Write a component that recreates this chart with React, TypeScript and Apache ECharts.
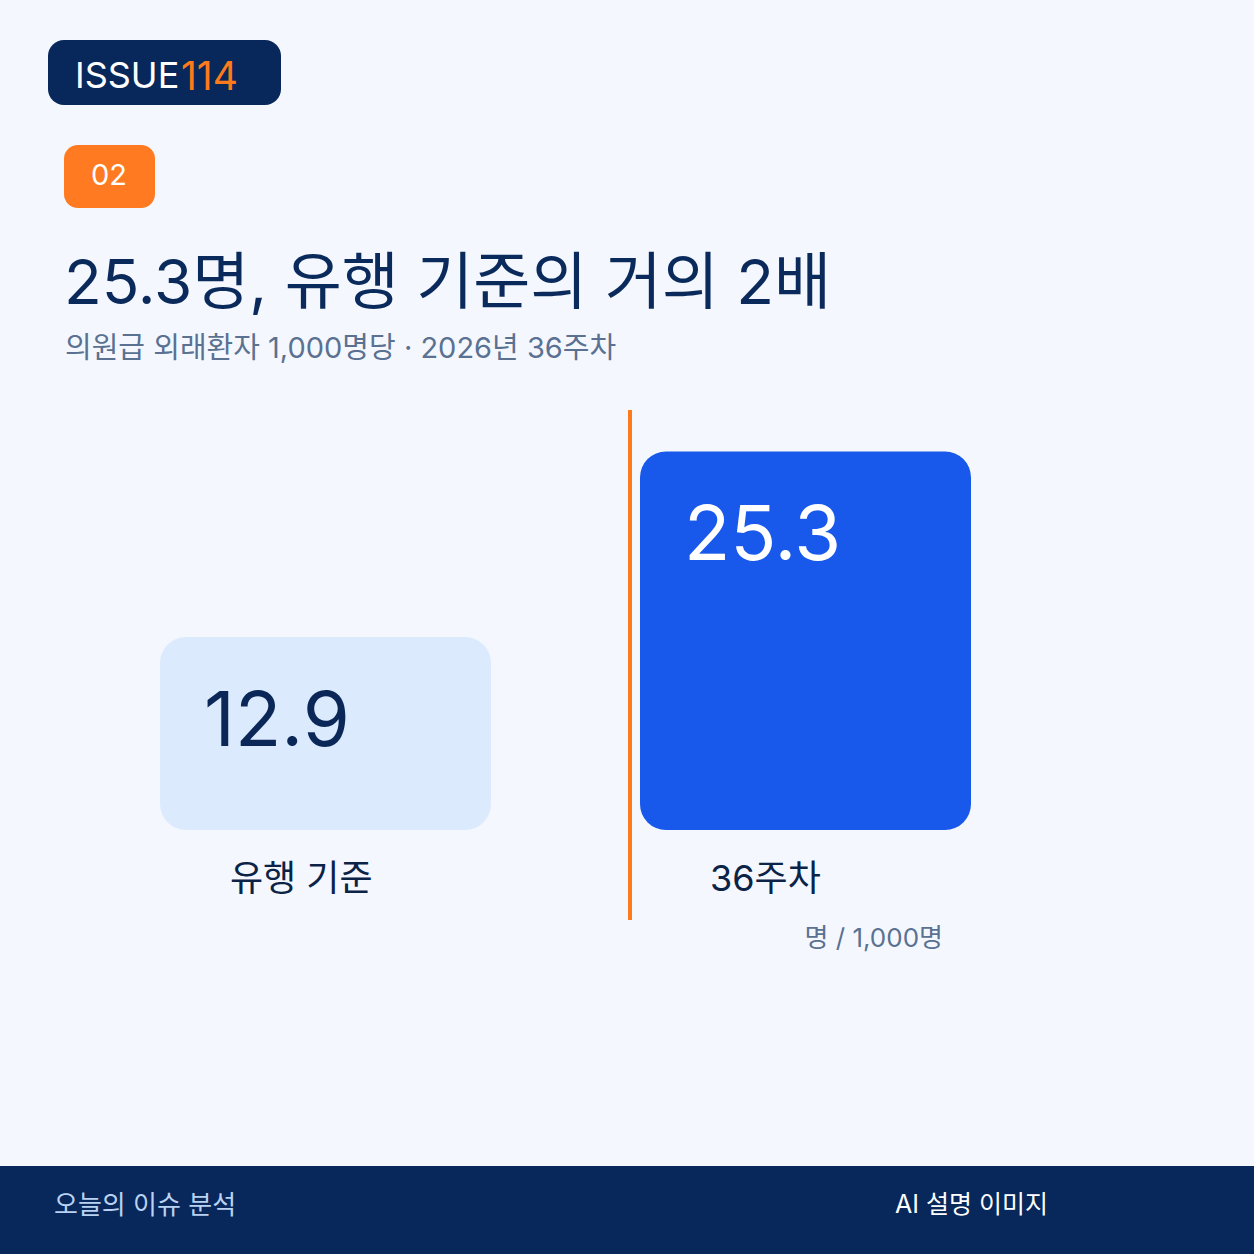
import React, { useEffect, useRef } from "react";
import * as echarts from "echarts";

const categories = ["유행 기준", "36주차"];
const values = [12.9, 25.3];
const barColors = ["#dbeafd", "#1858ea"];
const labelColors = ["#0a2757", "#ffffff"];
const yMax = 28;

const FONT = "Inter, 'Noto Sans CJK KR', sans-serif";

export default function App() {
  const ref = useRef<HTMLDivElement>(null);
  useEffect(() => {
    if (!ref.current) return;
    const chart = echarts.init(ref.current, undefined, { renderer: "svg" });
    chart.setOption({
      animation: false,
      backgroundColor: "#f4f8fe",
      textStyle: { fontFamily: FONT },
      grid: { left: 85.5, width: 960, top: 411, bottom: 424 },
      xAxis: {
        type: "category",
        data: categories,
        axisLine: { show: false },
        axisTick: { show: false },
        axisLabel: {
          margin: 30,
          formatter: (v: string) => `{a|${v}}`,
          rich: {
            a: { width: 191, align: "left", fontSize: 36, color: "#0b2347", fontFamily: FONT },
          },
        },
      },
      yAxis: {
        type: "value",
        min: 0,
        max: yMax,
        show: false,
        splitLine: { show: false },
      },
      series: [
        {
          type: "bar",
          barWidth: 331,
          data: values.map((v, i) => ({
            value: v,
            itemStyle: { color: barColors[i], borderRadius: 26 },
            label: {
              show: true,
              position: [44, 81],
              align: "left",
              verticalAlign: "middle",
              fontSize: 76,
              fontFamily: FONT,
              color: labelColors[i],
              formatter: "{c}",
            },
          })),
        },
      ],
      graphic: [
        { type: "line", shape: { x1: 630, y1: 410, x2: 630, y2: 920 }, style: { stroke: "#ff7a1a", lineWidth: 4 } },
        { type: "rect", shape: { x: 48, y: 40, width: 233, height: 65, r: 16 }, style: { fill: "#08275a" } },
        { type: "text", x: 75, y: 75, style: { text: "ISSUE", fill: "#ffffff", fontSize: 36, fontFamily: FONT, verticalAlign: "middle", textAlign: "left" } },
        { type: "text", x: 181, y: 75, style: { text: "114", fill: "#ff7a1a", fontSize: 39, fontFamily: FONT, verticalAlign: "middle", textAlign: "left" } },
        { type: "rect", shape: { x: 64, y: 145, width: 91, height: 63, r: 14 }, style: { fill: "#ff7a21" } },
        { type: "text", x: 109, y: 174, style: { text: "02", fill: "#ffffff", fontSize: 29, fontFamily: FONT, verticalAlign: "middle", textAlign: "center" } },
        { type: "text", x: 64, y: 281, style: { text: "25.3명, 유행 기준의 거의 2배", fill: "#0b2a5c", fontSize: 62, fontFamily: FONT, verticalAlign: "middle", textAlign: "left" } },
        { type: "text", x: 65, y: 347, style: { text: "의원급 외래환자 1,000명당 · 2026년 36주차", fill: "#5a7192", fontSize: 29, fontFamily: FONT, verticalAlign: "middle", textAlign: "left" } },
        { type: "text", x: 943, y: 937, style: { text: "명 / 1,000명", fill: "#5a7192", fontSize: 26, fontFamily: FONT, verticalAlign: "middle", textAlign: "right" } },
        { type: "rect", shape: { x: 0, y: 1166, width: 1254, height: 88 }, style: { fill: "#08275a" } },
        { type: "text", x: 54, y: 1204, style: { text: "오늘의 이슈 분석", fill: "#b9d2f2", fontSize: 26, fontFamily: FONT, verticalAlign: "middle", textAlign: "left" } },
        { type: "text", x: 895, y: 1204, style: { text: "AI 설명 이미지", fill: "#ffffff", fontSize: 25, fontFamily: FONT, verticalAlign: "middle", textAlign: "left" } },
      ],
    });
    return () => chart.dispose();
  }, []);
  return (
    <div
      ref={ref}
      style={{ position: "fixed", left: 0, top: 0, width: 1254, height: 1254 }}
    />
  );
}
